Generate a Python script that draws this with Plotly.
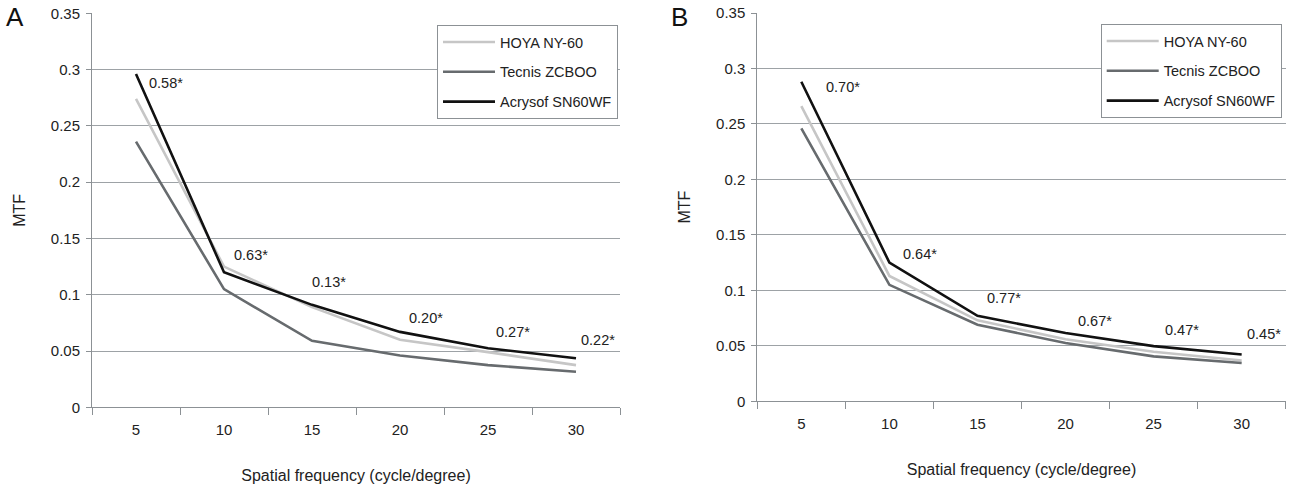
import plotly.graph_objects as go

# ---------------- data ----------------
freq = [5, 10, 15, 20, 25, 30]
series_names = ["HOYA NY-60", "Tecnis ZCBOO", "Acrysof SN60WF"]

a_hoya = [0.274, 0.125, 0.089, 0.060, 0.049, 0.0375]
a_tecnis = [0.236, 0.105, 0.059, 0.046, 0.0375, 0.0316]
a_acrysof = [0.296, 0.120, 0.091, 0.067, 0.0525, 0.0435]
a_labels = ["0.58*", "0.63*", "0.13*", "0.20*", "0.27*", "0.22*"]

b_hoya = [0.266, 0.113, 0.073, 0.056, 0.0447, 0.0368]
b_tecnis = [0.246, 0.105, 0.069, 0.0525, 0.0405, 0.0345]
b_acrysof = [0.288, 0.125, 0.077, 0.0615, 0.0497, 0.0422]
b_labels = ["0.70*", "0.64*", "0.77*", "0.67*", "0.47*", "0.45*"]

y_ticks = [0, 0.05, 0.1, 0.15, 0.2, 0.25, 0.3, 0.35]
y_ticktext = ["0", "0.05", "0.1", "0.15", "0.2", "0.25", "0.3", "0.35"]

# ---------------- style ----------------
colors = ["#c6c6c6", "#676b6e", "#111111"]
FONT = "Liberation Sans, Arial, sans-serif"
TXT = "#222222"
GRID = "#9da2a6"
AX = "#8c9195"

fig = go.Figure()

panels = [
    dict(series=[a_hoya, a_tecnis, a_acrysof], xa="x", ya="y", legend="legend"),
    dict(series=[b_hoya, b_tecnis, b_acrysof], xa="x2", ya="y2", legend="legend2"),
]
for p in panels:
    for name, vals, c in zip(series_names, p["series"], colors):
        fig.add_trace(go.Scatter(
            x=freq, y=vals, name=name, mode="lines",
            line=dict(color=c, width=2.6),
            xaxis=p["xa"], yaxis=p["ya"], legend=p["legend"],
            legendgroup=p["legend"] + name, hoverinfo="skip",
        ))

def xaxis(domain, anchor):
    return dict(
        domain=domain, anchor=anchor, range=[2.5, 32.5], automargin=False,
        tickmode="array", tickvals=freq, ticktext=[str(f) for f in freq],
        ticks="", showgrid=False, zeroline=False,
        showline=True, linecolor=AX, linewidth=1,
        ticklabelstandoff=9,
        tickfont=dict(family=FONT, size=15, color=TXT),
        minor=dict(tickmode="linear", tick0=2.5, dtick=5, ticks="outside",
                   ticklen=7, tickwidth=1, tickcolor=AX, showgrid=False),
        title=dict(text="Spatial frequency (cycle/degree)", standoff=32,
                   font=dict(family=FONT, size=16, color=TXT)),
    )

def yaxis(domain, anchor):
    return dict(
        domain=domain, anchor=anchor, range=[0, 0.35], automargin=False,
        tickmode="array", tickvals=y_ticks, ticktext=y_ticktext,
        ticks="outside", ticklen=5, tickwidth=1, tickcolor=AX,
        ticklabelstandoff=3,
        showgrid=True, gridcolor=GRID, gridwidth=1, zeroline=False,
        showline=True, linecolor=AX, linewidth=1,
        tickfont=dict(family=FONT, size=15, color=TXT),
        title=dict(text="MTF", standoff=21,
                   font=dict(family=FONT, size=16, color=TXT)),
    )

legend_style = dict(
    xanchor="left", yanchor="top", bgcolor="white",
    bordercolor="#8c9195", borderwidth=1,
    font=dict(family=FONT, size=14.5, color=TXT),
    tracegroupgap=8, traceorder="grouped", itemwidth=52,
)

annotations = []
a_lab_x = [6.7, 11.53, 15.97, 21.48, 26.42, 31.25]
a_lab_y = [0.288, 0.135, 0.111, 0.079, 0.0668, 0.0598]
b_lab_x = [7.37, 11.74, 16.5, 21.7, 26.63, 31.27]
b_lab_y = [0.283, 0.1327, 0.0933, 0.0723, 0.0642, 0.0604]
for lx, ly, t in zip(a_lab_x, a_lab_y, a_labels):
    annotations.append(dict(x=lx, y=ly, xref="x", yref="y", text=t, showarrow=False,
                            font=dict(family=FONT, size=14.5, color=TXT)))
for lx, ly, t in zip(b_lab_x, b_lab_y, b_labels):
    annotations.append(dict(x=lx, y=ly, xref="x2", yref="y2", text=t, showarrow=False,
                            font=dict(family=FONT, size=14.5, color=TXT)))
annotations.append(dict(x=4 / 1289, y=1 - 17 / 487, xref="paper", yref="paper", text="A",
                        showarrow=False, xanchor="left", yanchor="middle",
                        font=dict(family=FONT, size=26, color="#111")))
annotations.append(dict(x=669 / 1289, y=1 - 17 / 487, xref="paper", yref="paper", text="B",
                        showarrow=False, xanchor="left", yanchor="middle",
                        font=dict(family=FONT, size=26, color="#111")))

fig.update_layout(
    width=1289, height=487,
    margin=dict(l=0, r=0, t=0, b=0, autoexpand=False),
    paper_bgcolor="white", plot_bgcolor="white",
    showlegend=True,
    xaxis=xaxis([92 / 1289, 620 / 1289], "y"),
    yaxis=yaxis([1 - 407.3 / 487, 1 - 13.3 / 487], "x"),
    xaxis2=xaxis([757.3 / 1289, 1285.7 / 1289], "y2"),
    yaxis2=yaxis([1 - 401.3 / 487, 1 - 13 / 487], "x2"),
    legend=dict(x=437 / 1289, y=1 - 25 / 487, **legend_style),
    legend2=dict(x=1100.7 / 1289, y=1 - 24 / 487, **legend_style),
    annotations=annotations,
)

fig.write_html(
    "out.html",
    config={"displayModeBar": False},
    post_script="document.body.style.margin='0';document.body.style.overflow='hidden';",
)
